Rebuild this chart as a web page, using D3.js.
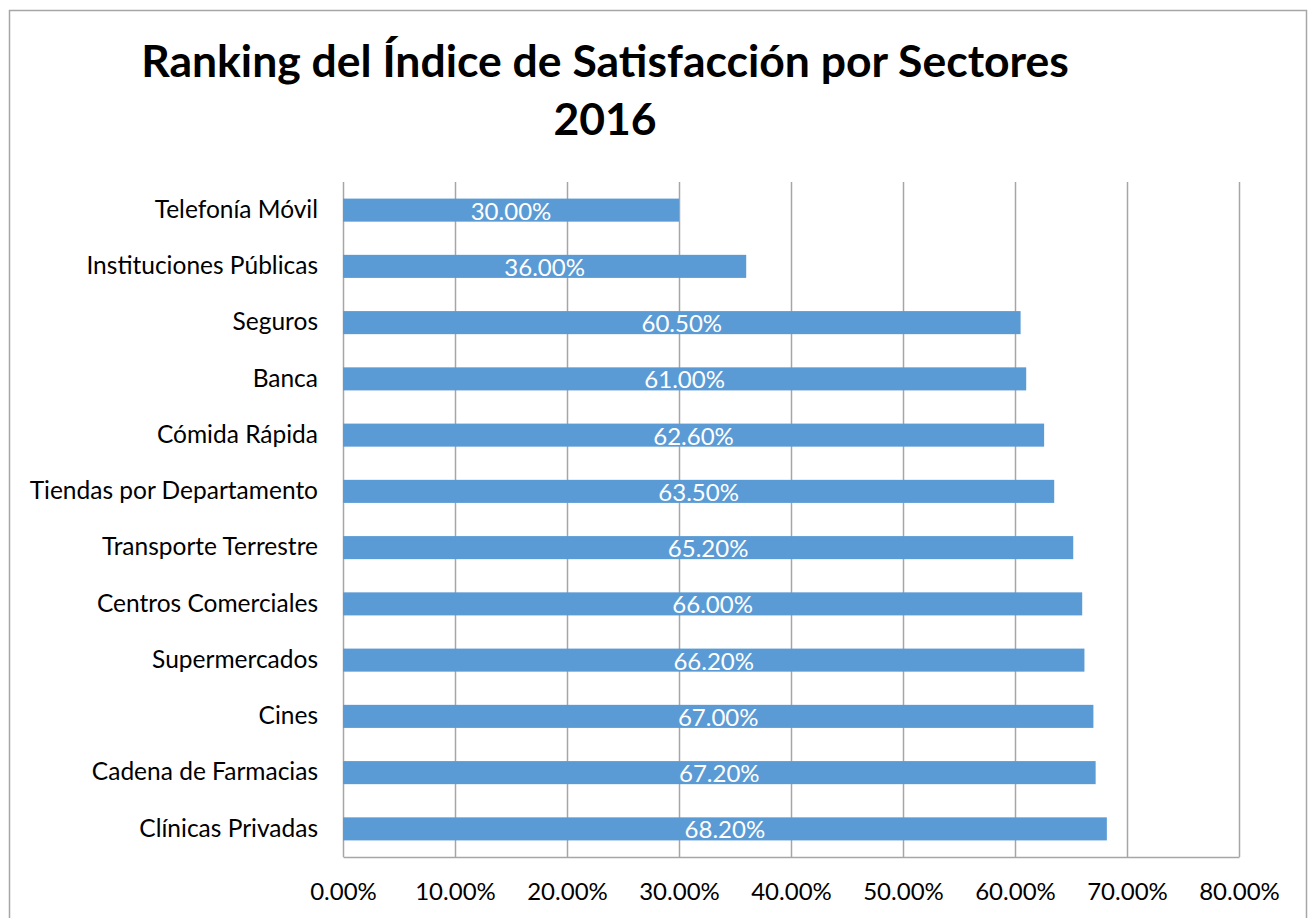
<!DOCTYPE html>
<html>
<head>
<meta charset="utf-8">
<script src="https://cdn.jsdelivr.net/npm/d3@7"></script>
<style>
  body { margin: 0; background: #fff; }
  text { font-family: Lato, "Open Sans", sans-serif; }
</style>
</head>
<body>
<div id="chart"></div>
<script>
const sectors = ["Telefonía Móvil", "Instituciones Públicas", "Seguros", "Banca", "Cómida Rápida",
    "Tiendas por Departamento", "Transporte Terrestre", "Centros Comerciales", "Supermercados",
    "Cines", "Cadena de Farmacias", "Clínicas Privadas"];
const satisfaction = [0.30, 0.36, 0.605, 0.61, 0.626, 0.635, 0.652, 0.66, 0.662, 0.67, 0.672, 0.682];
const xTicks = [0, 0.1, 0.2, 0.3, 0.4, 0.5, 0.6, 0.7, 0.8];
const titleLines = ["Ranking del Índice de Satisfacción por Sectores", "2016"];

const data = sectors.map((s, i) => ({sector: s, value: satisfaction[i]}));

const width = 1311,
      height = 918,
      margin = ({top: 182, right: 72, bottom: 61, left: 343});

let svg = d3.select("#chart")
    .append("svg")
    .attr("width", width)
    .attr("height", height);

// outer frame
svg.append("rect")
    .attr("x", 9.5).attr("y", 10.5)
    .attr("width", 1297).attr("height", 920)
    .attr("fill", "none")
    .attr("stroke", "#a6a6a6")
    .attr("stroke-width", 1.5);

let x = d3.scaleLinear()
    .domain([0, 0.8])
    .range([margin.left, width - margin.right]);

let y = d3.scaleBand()
    .domain(sectors)
    .range([margin.top, height - margin.bottom])
    .paddingInner(0.59)
    .paddingOuter(0.295);

const fmt = d3.format(".2%");

// grid + bottom axis
const xAxis = g => g
    .attr("transform", `translate(0,${height - margin.bottom})`)
    .call(d3.axisBottom(x).tickValues(xTicks).tickFormat(fmt)
        .tickSizeInner(-(height - margin.bottom - margin.top)).tickSizeOuter(0).tickPadding(26))
    .call(g => g.selectAll("line").attr("stroke", "#a6a6a6").attr("stroke-width", 1.5))
    .call(g => g.select(".domain").attr("stroke", "#a6a6a6").attr("stroke-width", 1.5))
    .call(g => g.selectAll("text").attr("font-size", 24).attr("fill", "#000")
        .attr("font-family", "Lato, 'Open Sans', sans-serif"));

const yAxis = g => g
    .attr("transform", `translate(${margin.left},0)`)
    .call(d3.axisLeft(y).tickSize(0).tickPadding(25))
    .call(g => g.select(".domain").remove())
    .call(g => g.selectAll("text").attr("font-size", 24.5).attr("fill", "#000")
        .attr("dy", "0.32em")
        .attr("font-family", "Lato, 'Open Sans', sans-serif"));

svg.append("g").call(xAxis);
svg.append("g").call(yAxis);

let bar = svg.selectAll(".bar")
    .data(data)
    .join("g")
    .attr("class", "bar");

bar.append("rect")
    .attr("fill", "#5b9bd5")
    .attr("x", x(0))
    .attr("y", d => y(d.sector))
    .attr("width", d => x(d.value) - x(0))
    .attr("height", y.bandwidth());

bar.append("text")
    .attr("x", d => (x(0) + x(d.value)) / 2)
    .attr("y", d => y(d.sector) + y.bandwidth() - 2)
    .attr("text-anchor", "middle")
    .attr("fill", "#fff")
    .attr("font-size", 24)
    .text(d => fmt(d.value));

svg.append("g")
    .selectAll("text")
    .data(titleLines)
    .join("text")
    .attr("x", 605)
    .attr("y", (d, i) => 77 + i * 58)
    .attr("text-anchor", "middle")
    .attr("font-weight", "bold")
    .attr("font-size", 44.5)
    .attr("fill", "#000")
    .text(d => d);
</script>
</body>
</html>
